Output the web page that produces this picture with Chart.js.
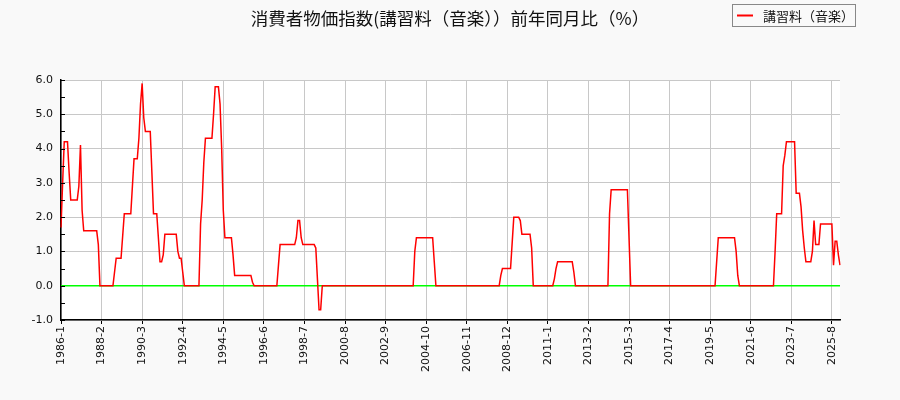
<!DOCTYPE html>
<html>
<head>
<meta charset="utf-8">
<script src="https://cdn.jsdelivr.net/npm/chart.js"></script>
<style>
  html, body { margin:0; padding:0; background:#f9f9f9; }
  #wrap { width:900px; height:400px; }
</style>
</head>
<body>
<div id="wrap"><canvas id="c" width="900" height="400"></canvas></div>
<script>
// --- data ---
const chartTitle = "消費者物価指数(講習料（音楽））前年同月比（%）";
const seriesName = "講習料（音楽）";
const startYear = 1986, startMonth = 1;
const tickEvery = 25;
const yTicks = [-1, 0, 1, 2, 3, 4, 5, 6];

// monthly year-over-year values as [value, number of months]
const valueRuns = [
  [1.7,1],[3.0,1],[4.2,3],[3.3,1],[2.5,5],[2.9,1],[4.1,1],[2.2,1],[1.6,9],[1.2,1],
  [0,9],[0.4,1],[0.8,4],[1.45,1],[2.1,5],[2.9,1],[3.7,3],[4.3,1],[5.3,1],[5.9,1],
  [4.9,1],[4.5,4],[3.3,1],[2.1,3],[1.4,1],[0.7,2],[0.9,1],[1.5,8],[1.0,1],[0.8,2],
  [0.4,1],[0,10],[1.8,1],[2.5,1],[3.6,1],[4.3,5],[5.0,1],[5.8,3],[5.3,1],[4.0,1],
  [2.2,1],[1.4,5],[0.9,1],[0.3,11],[0.1,1],[0,15],[0.6,1],[1.2,10],[1.4,1],[1.9,2],
  [1.4,1],[1.2,8],[1.1,1],[0.2,1],[-0.7,2],[0,57],[1.0,1],[1.4,11],[0.7,1],[0,40],
  [0.3,1],[0.5,6],[1.25,1],[2.0,4],[1.9,1],[1.5,6],[1.1,1],[0,13],[0.2,1],[0.5,1],
  [0.7,10],[0.4,1],[0,21],[2.1,1],[2.8,11],[1.4,1],[0,53],[0.7,1],[1.4,11],[1.0,1],
  [0.3,1],[0,22],[1.0,1],[2.1,4],[3.5,1],[3.8,1],[4.2,6],[2.7,3],[2.3,1],[1.6,1],
  [1.1,1],[0.7,4],[1.0,1],[1.9,1],[1.2,3],[1.8,8],[0.6,1],[1.3,2],[0.9,1],[0.6,1]
];

const values = [];
valueRuns.forEach(r => { for (let i = 0; i < r[1]; i++) values.push(r[0]); });

const months = [];
for (let i = 0; i < values.length; i++) {
  const t = (startMonth - 1) + i;
  months.push((startYear + Math.floor(t / 12)) + "-" + (t % 12 + 1));
}
const zeroLine = values.map(() => 0);

// --- plugins ---
const framePlugin = {
  id: 'frame',
  beforeDraw(chart) {
    const ctx = chart.ctx, a = chart.chartArea;
    ctx.save();
    ctx.fillStyle = '#f9f9f9';
    ctx.fillRect(0, 0, chart.width, chart.height);
    ctx.fillStyle = '#ffffff';
    ctx.fillRect(a.left, a.top, a.right - a.left, a.bottom - a.top);
    ctx.restore();
  },
  afterDraw(chart) {
    const ctx = chart.ctx, a = chart.chartArea, y = chart.scales.y;
    ctx.save();
    // small inward ticks every 0.5 on the y axis
    ctx.strokeStyle = '#000';
    ctx.lineWidth = 1;
    for (let v = -1; v <= 6; v += 0.5) {
      const py = Math.round(y.getPixelForValue(v)) + 0.5;
      ctx.beginPath();
      ctx.moveTo(a.left, py);
      ctx.lineTo(a.left + 4, py);
      ctx.stroke();
    }
    // title
    ctx.fillStyle = '#111';
    ctx.font = '17.5px "Noto Sans CJK JP", "Noto Sans", sans-serif';
    ctx.textAlign = 'center';
    ctx.textBaseline = 'middle';
    ctx.fillText(chartTitle, 450, 18);
    // legend box
    ctx.strokeStyle = '#888';
    ctx.strokeRect(732.5, 4.5, 123, 22);
    ctx.strokeStyle = '#ff0000';
    ctx.lineWidth = 2;
    ctx.beginPath();
    ctx.moveTo(737, 15.5);
    ctx.lineTo(753, 15.5);
    ctx.stroke();
    ctx.fillStyle = '#111';
    ctx.font = '13px "Noto Sans CJK JP", "Noto Sans", sans-serif';
    ctx.textAlign = 'left';
    ctx.fillText(seriesName, 763, 16);
    ctx.restore();
  }
};

new Chart(document.getElementById('c'), {
  type: 'line',
  data: {
    labels: months,
    datasets: [
      { label: seriesName, data: values, borderColor: '#ff0000', borderWidth: 1.5,
        pointRadius: 0, tension: 0, fill: false, order: 1 },
      { label: 'zero', data: zeroLine, borderColor: '#00ff00', borderWidth: 1.5,
        pointRadius: 0, tension: 0, fill: false, order: 2 }
    ]
  },
  options: {
    responsive: false,
    animation: false,
    events: [],
    layout: { padding: { left: 16, right: 60, top: 80, bottom: 20 } },
    plugins: { legend: { display: false }, title: { display: false }, tooltip: { enabled: false } },
    scales: {
      x: {
        type: 'category',
        offset: false,
        afterFit(scale) { scale.height = 60; },
        grid: {
          color: c => (c.index % tickEvery === 0 ? '#c8c8c8' : 'rgba(0,0,0,0)'),
          tickColor: c => (c.index % tickEvery === 0 ? '#000' : 'rgba(0,0,0,0)'),
          tickLength: 4,
          lineWidth: 1
        },
        border: { color: '#000', width: 1.5 },
        ticks: {
          autoSkip: false,
          maxRotation: 90,
          minRotation: 90,
          padding: 2,
          color: '#111',
          font: { family: 'DejaVu Sans', size: 11 },
          callback: (v, i) => (i % tickEvery === 0 ? months[i] : '')
        }
      },
      y: {
        min: -1,
        max: 6,
        afterFit(scale) { scale.width = 45; },
        afterBuildTicks(scale) { scale.ticks = yTicks.map(v => ({ value: v })); },
        grid: { color: '#c8c8c8', drawTicks: false, lineWidth: 1 },
        border: { color: '#000', width: 1.5 },
        ticks: {
          padding: 8,
          color: '#111',
          font: { family: 'DejaVu Sans', size: 11 },
          callback: v => Number(v).toFixed(1)
        }
      }
    }
  },
  plugins: [framePlugin]
});
</script>
</body>
</html>
